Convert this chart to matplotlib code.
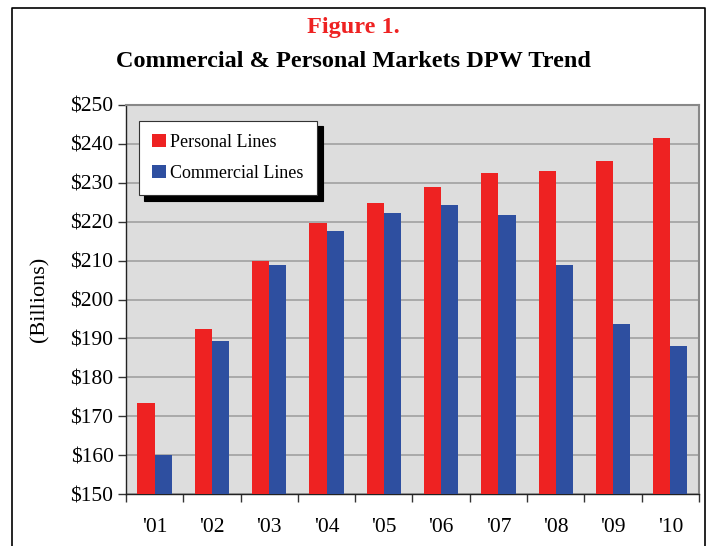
import matplotlib
matplotlib.use('Agg')
import matplotlib.pyplot as plt
import numpy as np
from matplotlib.lines import Line2D

plt.rcParams['font.family'] = ['Liberation Serif', 'DejaVu Serif']

years = ["'01", "'02", "'03", "'04", "'05", "'06", "'07", "'08", "'09", "'10"]
personal = [173.5, 192.5, 210.0, 219.7, 224.8, 228.9, 232.5, 233.0, 235.7, 241.4]
commercial = [160.1, 189.4, 208.9, 217.6, 222.3, 224.3, 221.7, 208.9, 193.6, 188.0]
yticks = [150, 160, 170, 180, 190, 200, 210, 220, 230, 240, 250]

red = '#EE2222'
blue = '#2E4FA0'

fig = plt.figure(figsize=(7.06, 5.46), dpi=100)
ax = fig.add_axes([0.1785, 0.0952, 0.8115, 0.7125])

x = np.arange(len(years))
w = 0.3
ax.bar(x - w / 2, personal, width=w, color=red, label='Personal Lines', zorder=3)
ax.bar(x + w / 2, commercial, width=w, color=blue, label='Commercial Lines', zorder=3)

ax.set_facecolor('#DDDDDD')
ax.set_xlim(-0.5, len(years) - 0.5)
ax.set_ylim(150, 250)
ax.set_yticks(yticks)
ax.set_yticklabels(['$%d' % v for v in yticks], fontsize=15.5)
ax.yaxis.grid(True, color='#A0A0A0', linewidth=1.2, zorder=1)

# x ticks on category boundaries, labels at centres
ax.set_xticks(np.arange(len(years) + 1) - 0.5)
ax.set_xticklabels([])
ax.set_xticks(x, minor=True)
ax.set_xticklabels(years, minor=True, fontsize=15.5)
ax.tick_params(axis='x', which='minor', length=0, pad=17)
ax.tick_params(axis='x', which='major', length=6, width=1, color='#333333')
ax.tick_params(axis='y', length=6, width=1, color='#333333', pad=3)

for s in ['top', 'right']:
    ax.spines[s].set_color('#888888')
    ax.spines[s].set_linewidth(1.5)
for s in ['left', 'bottom']:
    ax.spines[s].set_color('#222222')
    ax.spines[s].set_linewidth(1.0)

ax.set_ylabel('(Billions)', fontsize=16, labelpad=15)

leg = ax.legend(loc='upper left', bbox_to_anchor=(0.022, 0.96), fontsize=13,
                frameon=True, fancybox=False, edgecolor='#333333',
                handlelength=0.75, handleheight=0.75, handletextpad=0.25,
                labelspacing=0.75, borderpad=0.75, borderaxespad=0,
                shadow={'color': 'black', 'alpha': 1, 'ox': 4, 'oy': -4})
leg.get_frame().set_linewidth(0.8)
leg.get_frame().set_facecolor('white')
leg.set_zorder(5)

fig.text(0.5, 0.950, 'Figure 1.', color=red, fontsize=17.5, fontweight='bold',
         ha='center', va='center')
fig.text(0.5, 0.888, 'Commercial & Personal Markets DPW Trend', fontsize=17.5,
         fontweight='bold', ha='center', va='center')

# outer frame
fig.add_artist(Line2D([0.017, 0.017, 0.998, 0.998], [0.0, 0.986, 0.986, 0.0],
                      transform=fig.transFigure, color='black', linewidth=1.2))

fig.savefig('out.png', dpi=100)
